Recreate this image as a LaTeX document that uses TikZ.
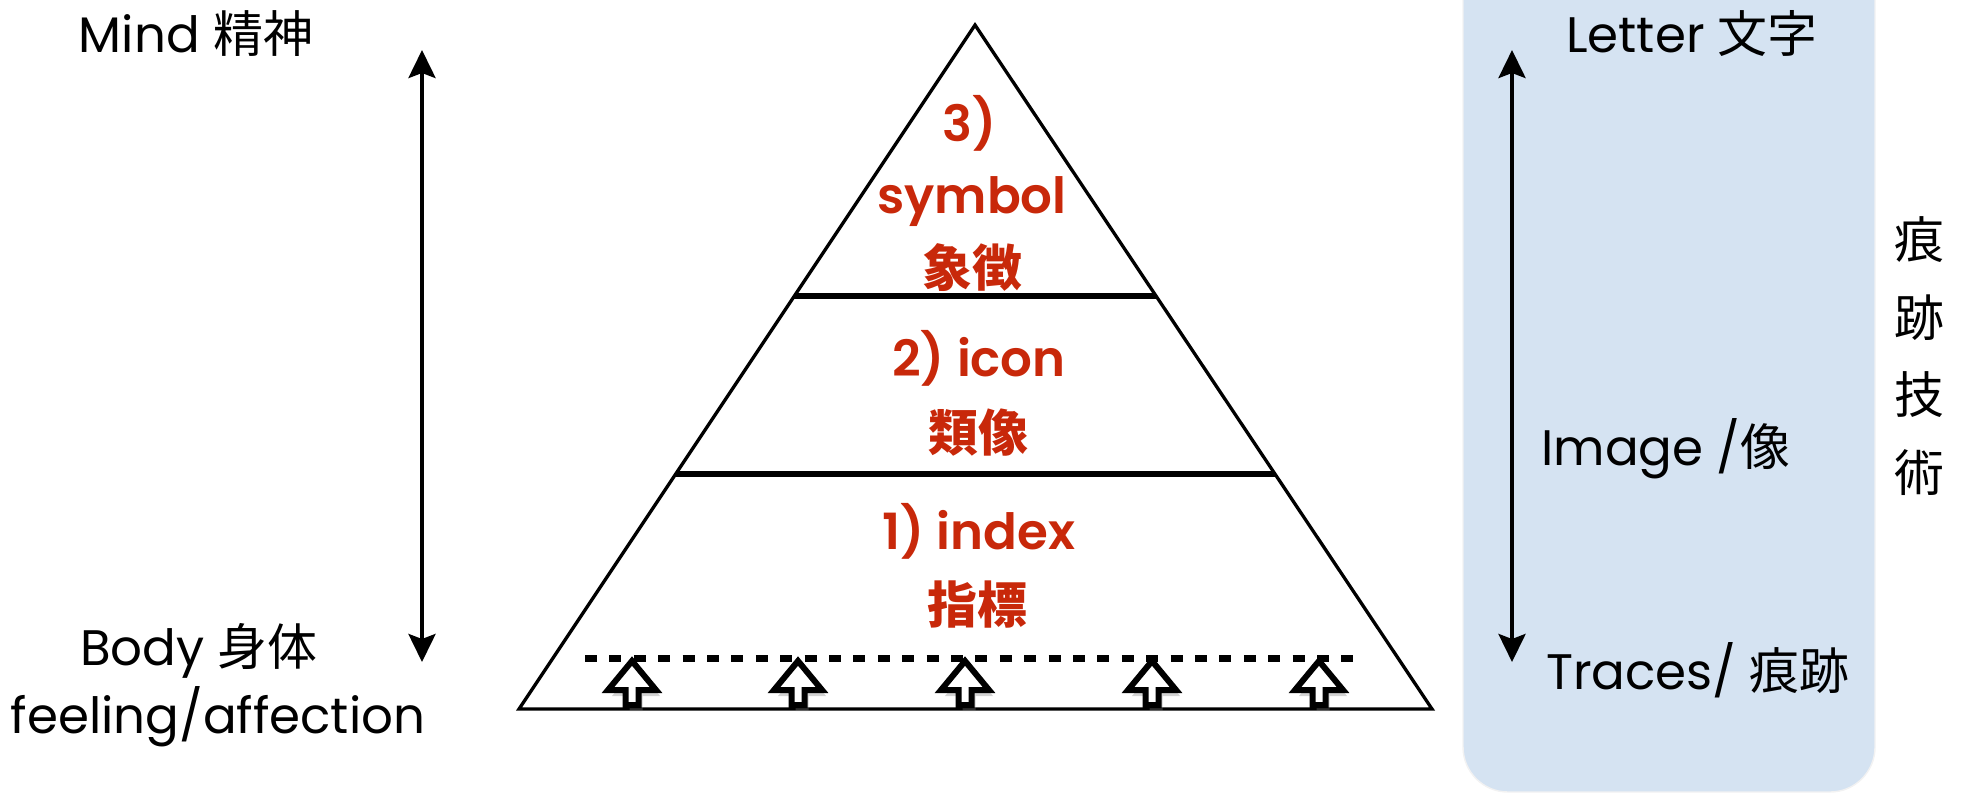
\documentclass[tikz,border=0pt]{standalone}
\usepackage{fontspec}
\setmainfont{Poppins}[BoldFont={Poppins SemiBold}]
\newfontfamily\jp{Noto Sans CJK JP}
\usepackage{xcolor}
\usepackage{tikz}
\usetikzlibrary{arrows.meta,calc,shadows}
\definecolor{signred}{RGB}{200,40,10}
\definecolor{panelblue}{RGB}{213,227,242}
\tikzset{txt/.style={inner sep=0pt,font=\fontsize{14.2}{17}\selectfont},
			red txt/.style={inner sep=0pt,text=signred,font=\fontsize{14.2}{17}\selectfont\bfseries},
			level line/.style={line width=0.6mm},
			dash line/.style={line width=0.7mm,dash pattern=on 1.2mm off 1.24mm},
			axis arrow/.style={{Stealth[length=2.8mm,width=2.7mm,inset=0.5mm]}-{Stealth[length=2.8mm,width=2.7mm,inset=0.5mm]},line width=0.4mm},
			up arrow/.style={draw,fill=white,line width=0.6mm,line join=miter,drop shadow={shadow xshift=0.4mm,shadow yshift=-0.6mm,opacity=0.35}},
			}

\begin{document}
\begin{tikzpicture}[x=0.1mm,y=-0.1mm]
				\useasboundingbox (0,0) rectangle (1962,793);
				\filldraw[fill=panelblue,draw=black!5,rounded corners=4.5mm] (1463,-60) rectangle (1875,792);
				
				\coordinate (top) at (975,25);
				\coordinate (bl) at (519,709);
				\coordinate (br) at (1432,709);
				\draw[line width=0.33mm] (top) -- (bl) -- (br) -- cycle;
				\draw[level line] ($(top)!0.396!(bl)$) -- ($(top)!0.396!(br)$);
				\draw[level line] ($(top)!0.656!(bl)$) -- ($(top)!0.656!(br)$);
				
				\coordinate (dl) at (585,658);
				\coordinate (dr) at (1360,658);
				\draw[dash line] (dl) -- (dr);
				\foreach \x in {632,798,965,1152,1319}
					\draw[up arrow] (\x,661) -- (\x+24,690) -- (\x+6.5,690) -- (\x+6.5,705)
						-- (\x-6.5,705) -- (\x-6.5,690) -- (\x-24,690) -- cycle;
				
				\node[red txt,anchor=base] (n3) at (970,141) {3)};
				\node[red txt,anchor=base] (sym) at (972,213) {symbol};
				\node[red txt,font=\fontsize{14.2}{17}\selectfont\jp\bfseries] (symjp) at (972,268) {象徴};
				\node[red txt,anchor=base] (icon) at (979,376) {2) icon};
				\node[red txt,font=\fontsize{14.2}{17}\selectfont\jp\bfseries] (iconjp) at (978,433) {類像};
				\node[red txt,anchor=base] (index) at (979,549) {1) index};
				\node[red txt,font=\fontsize{14.2}{17}\selectfont\jp\bfseries] (indexjp) at (977,605) {指標};
				
				\node[txt,anchor=base] (mind) at (196,52) {Mind {\jp 精神}};
				\node[txt,anchor=base] (body) at (199,665) {Body {\jp 身体}};
				\node[txt,anchor=base] (feel) at (218,733) {feeling/affection};
				\coordinate (mtop) at (422,50);
				\coordinate (mbot) at (422,662);
				\draw[axis arrow] (mtop) -- (mbot);
				
				\node[txt,anchor=base] (letter) at (1692,52) {Letter {\jp 文字}};
				\node[txt,anchor=base] (image) at (1666,465) {Image /{\jp 像}};
				\node[txt,anchor=base] (traces) at (1698,689) {Traces/ {\jp 痕跡}};
				\coordinate (ltop) at (1512,50);
				\coordinate (lbot) at (1512,662);
				\draw[axis arrow] (ltop) -- (lbot);
				\node[txt,align=center,font=\fontsize{14.2}{22.1}\selectfont\jp] (trace tech) at (1919,356) {痕\\跡\\技\\術};
\end{tikzpicture}
\end{document}
